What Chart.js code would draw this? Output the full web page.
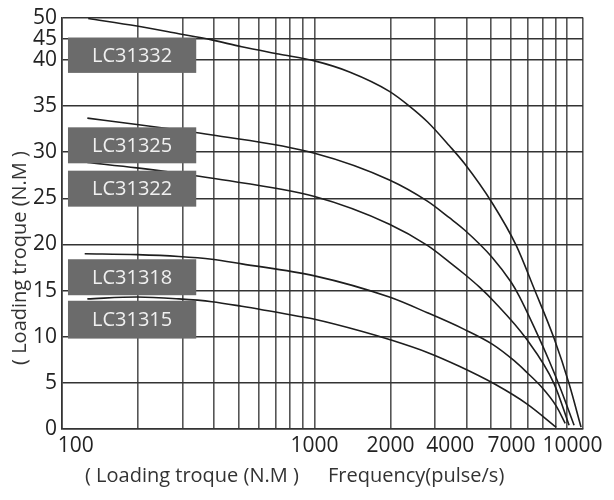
<!DOCTYPE html>
<html>
<head>
<meta charset="utf-8">
<script src="https://cdn.jsdelivr.net/npm/chart.js@4.4.1/dist/chart.umd.min.js"></script>
<style>
  html, body { margin: 0; padding: 0; background: #fff; }
</style>
</head>
<body>
<canvas id="myChart" width="614" height="500"></canvas>
<script>
// curves: frequency (pulse/s) and loading torque (N.M)
var names = ['LC31332', 'LC31325', 'LC31322', 'LC31318', 'LC31315'];

var freq32 = [127, 198, 290, 388, 515, 721, 1000, 1375, 1979, 2374, 2797, 3418, 3917, 5052, 6286, 7406, 8885, 10183, 11357];
var torque32 = [49.8, 48.0, 46.2, 44.8, 43.1, 41.4, 39.9, 38.7, 36.6, 35.0, 33.3, 30.7, 28.8, 24.5, 19.9, 15.2, 9.8, 4.9, 0.2];

var freq25 = [126, 198, 290, 388, 1000, 1979, 2797, 3418, 3917, 5052, 6006, 6461, 7473, 8490, 9469, 10659];
var torque25 = [33.7, 33.0, 32.4, 31.9, 29.9, 27.0, 24.7, 22.9, 21.6, 18.6, 15.9, 14.4, 10.8, 7.4, 4.2, 0.4];

var freq22 = [126, 198, 290, 388, 1000, 1979, 2797, 3418, 3917, 4489, 5145, 6884, 8885, 10183];
var torque22 = [28.9, 28.3, 27.7, 27.2, 25.2, 22.2, 19.9, 18.1, 16.8, 15.4, 13.8, 9.8, 4.9, 0.4];

var freq18 = [123, 198, 290, 392, 515, 1000, 1979, 2797, 3917, 5052, 6172, 6949, 7891, 9049, 9830];
var torque18 = [19.0, 18.9, 18.7, 18.4, 17.9, 16.6, 14.3, 12.6, 10.8, 9.2, 7.4, 6.1, 4.6, 2.5, 0.6];

var freq15 = [126, 198, 290, 392, 515, 872, 1000, 1534, 1979, 2797, 3742, 5145, 6949, 9049];
var torque15 = [14.1, 14.3, 14.1, 13.8, 13.3, 12.2, 11.9, 10.6, 9.7, 8.3, 6.8, 4.9, 2.7, 0.2];

var xGrid = [100, 200, 300, 400, 500, 600, 700, 800, 900, 1000, 2000, 3000, 4000, 5000, 6000, 7000, 8000, 9000, 10000];
var xLabels = [100, 1000, 2000, 4000, 7000, 10000];
var yTicks = [0, 5, 10, 15, 20, 25, 30, 35, 40, 45, 50];

var FONT = "'Open Sans', 'Noto Sans', sans-serif";
var X_MAX = 11560;

// y axis in the picture is squeezed above 40
var BREAK_VAL = 40;
var BREAK_FRAC = 0.897;

class SplitScale extends Chart.LinearScale {
  getPixelForValue(v) {
    var f = v <= BREAK_VAL ? v / BREAK_VAL * BREAK_FRAC
      : BREAK_FRAC + (v - BREAK_VAL) / (this.max - BREAK_VAL) * (1 - BREAK_FRAC);
    return this.bottom - f * (this.bottom - this.top);
  }
  getValueForPixel(p) {
    var f = (this.bottom - p) / (this.bottom - this.top);
    return f <= BREAK_FRAC ? f / BREAK_FRAC * BREAK_VAL
      : BREAK_VAL + (f - BREAK_FRAC) / (1 - BREAK_FRAC) * (this.max - BREAK_VAL);
  }
}
SplitScale.id = 'split';
SplitScale.defaults = Chart.LinearScale.defaults;
Chart.register(SplitScale);

function pts(xs, ys) {
  return xs.map(function (x, i) { return { x: x, y: ys[i] }; });
}

var series = [pts(freq32, torque32), pts(freq25, torque25), pts(freq22, torque22), pts(freq18, torque18), pts(freq15, torque15)];

// the original nudges a few x labels off their grid line
var labelPad = { 100: '     ', 10000: '  ' };
var labelPadEnd = { 4000: '      ', 7000: '      ' };

// grey name tags, in data units (x range, y top / bottom)
var tagX = [105.6, 340];
var tagTop = [45.3, 32.7, 28.0, 18.4, 13.9];
var tagBottom = [38.6, 28.8, 24.1, 14.5, 9.8];

var tagsPlugin = {
  id: 'tags',
  afterDatasetsDraw: function (chart) {
    var ctx = chart.ctx, xs = chart.scales.x, ys = chart.scales.y;
    var x0 = xs.getPixelForValue(tagX[0]), x1 = xs.getPixelForValue(tagX[1]);
    ctx.save();
    names.forEach(function (n, i) {
      var t = ys.getPixelForValue(tagTop[i]), b = ys.getPixelForValue(tagBottom[i]);
      ctx.fillStyle = '#6b6b6b';
      ctx.fillRect(x0, t, x1 - x0, b - t);
      ctx.fillStyle = '#f0f0f0';
      ctx.font = '20px ' + FONT;
      ctx.textAlign = 'center';
      ctx.textBaseline = 'middle';
      ctx.fillText(n, (x0 + x1) / 2, (t + b) / 2 + 1);
    });
    ctx.restore();
  },
  afterDraw: function (chart) {
    var ctx = chart.ctx;
    ctx.save();
    ctx.fillStyle = '#333';
    ctx.font = '20px ' + FONT;
    ctx.textBaseline = 'alphabetic';
    ctx.textAlign = 'left';
    ctx.fillText('( Loading troque (N.M )', 85, 482);
    ctx.fillText('Frequency(pulse/s)', 328, 482);
    ctx.textAlign = 'center';
    ctx.translate(26, 258);
    ctx.rotate(-Math.PI / 2);
    ctx.fillText('( Loading troque (N.M )', 0, 0);
    ctx.restore();
  }
};

var ctx = document.getElementById('myChart');
var myChart = new Chart(ctx, {
  type: 'line',
  data: {
    datasets: series.map(function (s, i) {
      return {
        label: names[i],
        data: s,
        borderColor: '#1e1e1e',
        borderWidth: 1.6,
        pointRadius: 0,
        fill: false,
        cubicInterpolationMode: 'monotone'
      };
    })
  },
  options: {
    responsive: false,
    animation: false,
    layout: { padding: { top: 12, right: 31, left: 0, bottom: 0 } },
    plugins: {
      legend: { display: false },
      tooltip: { enabled: false }
    },
    scales: {
      x: {
        type: 'logarithmic',
        min: 100,
        max: X_MAX,
        afterBuildTicks: function (s) {
          s.ticks = xGrid.concat([X_MAX]).map(function (v) { return { value: v }; });
        },
        afterFit: function (s) { s.height = 71; },
        ticks: {
          autoSkip: false,
          maxRotation: 0,
          padding: 4,
          color: '#222',
          font: { family: FONT, size: 21 },
          callback: function (v) {
            if (xLabels.indexOf(v) < 0) return '';
            return (labelPad[v] || '') + v + (labelPadEnd[v] || '');
          }
        },
        grid: { color: '#555', lineWidth: 1.6, drawTicks: false },
        border: { color: '#333', width: 1.6 }
      },
      y: {
        type: 'split',
        min: 0,
        max: 50,
        afterBuildTicks: function (s) {
          s.ticks = yTicks.map(function (v) { return { value: v }; });
        },
        afterFit: function (s) { s.width = 62; },
        ticks: {
          autoSkip: false,
          padding: 5,
          color: '#222',
          font: { family: FONT, size: 21 }
        },
        grid: { color: '#333', lineWidth: 1.6, drawTicks: false },
        border: { color: '#333', width: 1.6 }
      }
    }
  },
  plugins: [tagsPlugin]
});
</script>
</body>
</html>
